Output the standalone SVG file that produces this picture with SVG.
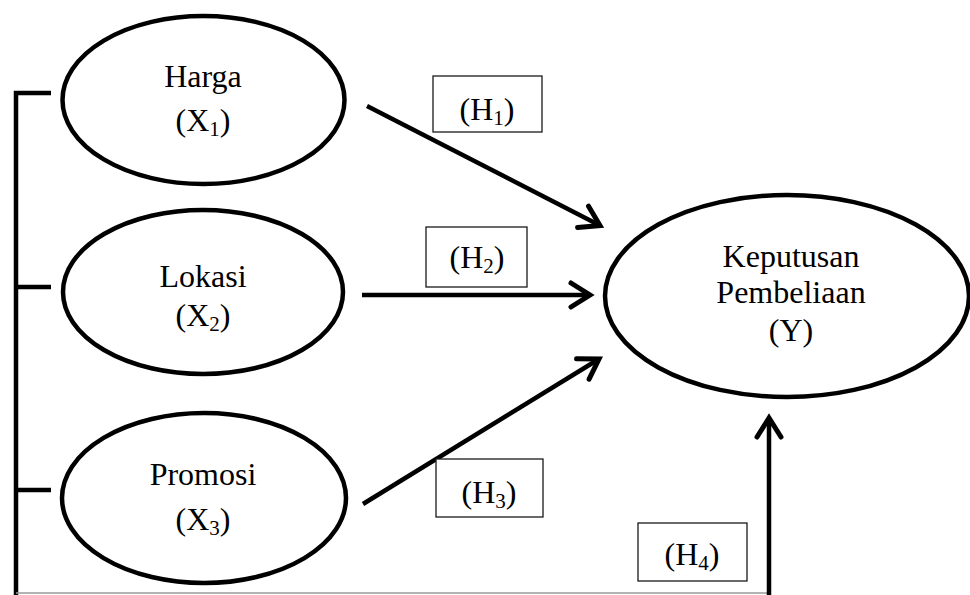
<svg xmlns="http://www.w3.org/2000/svg" width="970" height="595" viewBox="0 0 970 595">
<style>
  .node { fill: #ffffff; stroke: #000000; stroke-width: 4.5; }
  .t { font-family: "Liberation Serif", "Times New Roman", serif; font-size: 32px; fill: #000000; text-anchor: middle; }
  .sub { font-size: 21px; }
  .arrow { stroke: #000000; stroke-width: 4.5; fill: none; marker-end: url(#chev); }
  .bracket { stroke: #000000; stroke-width: 4.5; fill: none; }
  .lbox { fill: #ffffff; stroke: #1a1a1a; stroke-width: 1.3; }
  .base { stroke: #9a9a9a; stroke-width: 1.5; fill: none; }
</style>
<defs>
  <marker id="chev" markerUnits="userSpaceOnUse" markerWidth="40" markerHeight="40" refX="0" refY="0" viewBox="-25 -20 30 40" orient="auto">
    <path d="M-19,-12 L0,0 L-19,12" fill="none" stroke="#000000" stroke-width="5" stroke-linecap="round" stroke-linejoin="miter"/>
  </marker>
</defs>
<rect width="970" height="595" fill="#ffffff"/>

<g id="connectors">
  <path class="bracket" d="M51,93 L16,93 L16,595"/>
  <path class="bracket" d="M51,287 L16,287"/>
  <path class="bracket" d="M51,490 L16,490"/>
  <line class="base" x1="16" y1="593" x2="769" y2="593"/>
  <line class="arrow" x1="367" y1="106" x2="600" y2="225.5"/>
  <line class="arrow" x1="362" y1="295" x2="590" y2="295"/>
  <line class="arrow" x1="363" y1="504" x2="599" y2="359"/>
  <line class="arrow" x1="769" y1="595" x2="769" y2="418"/>
  <g id="label-h1">
    <rect class="lbox" x="433" y="76" width="109" height="56"/>
    <text class="t" x="487" y="120">(H<tspan class="sub" dy="5">1</tspan><tspan dy="-5">)</tspan></text>
  </g>
  <g id="label-h2">
    <rect class="lbox" x="426" y="227" width="101" height="60"/>
    <text class="t" x="477" y="268">(H<tspan class="sub" dy="5">2</tspan><tspan dy="-5">)</tspan></text>
  </g>
  <g id="label-h3">
    <rect class="lbox" x="436" y="459" width="107" height="58"/>
    <text class="t" x="489" y="503">(H<tspan class="sub" dy="5">3</tspan><tspan dy="-5">)</tspan></text>
  </g>
  <g id="label-h4">
    <rect class="lbox" x="638" y="523" width="109" height="58"/>
    <text class="t" x="692" y="565">(H<tspan class="sub" dy="5">4</tspan><tspan dy="-5">)</tspan></text>
  </g>
</g>

<g id="node-harga">
  <ellipse class="node" cx="203.5" cy="100" rx="141" ry="84"/>
  <text class="t" x="203" y="87">Harga</text>
  <text class="t" x="203" y="131">(X<tspan class="sub" dy="5">1</tspan><tspan dy="-5">)</tspan></text>
</g>

<g id="node-lokasi">
  <ellipse class="node" cx="203" cy="292" rx="140" ry="82"/>
  <text class="t" x="203" y="287">Lokasi</text>
  <text class="t" x="203" y="326">(X<tspan class="sub" dy="5">2</tspan><tspan dy="-5">)</tspan></text>
</g>

<g id="node-promosi">
  <ellipse class="node" cx="204" cy="498" rx="142" ry="85"/>
  <text class="t" x="203" y="485">Promosi</text>
  <text class="t" x="203" y="530">(X<tspan class="sub" dy="5">3</tspan><tspan dy="-5">)</tspan></text>
</g>

<g id="node-keputusan">
  <ellipse class="node" cx="787" cy="296" rx="182" ry="101"/>
  <text class="t" x="791" y="267">Keputusan</text>
  <text class="t" x="791" y="303">Pembeliaan</text>
  <text class="t" x="791" y="341">(Y)</text>
</g>
</svg>
